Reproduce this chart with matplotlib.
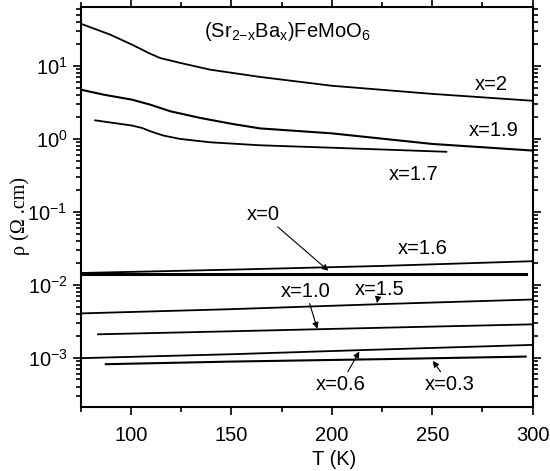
import matplotlib
matplotlib.use("Agg")
import matplotlib.pyplot as plt
from matplotlib import font_manager
from matplotlib.ticker import MultipleLocator, LogLocator, LogFormatterMathtext

# prefer a narrow sans face, fall back to the regular one at a smaller size
names = {f.name for f in font_manager.fontManager.ttflist}
if 'Liberation Sans Narrow' in names:
    sans = 'Liberation Sans Narrow'
    fs = 16.5
else:
    sans = 'Liberation Sans'
    fs = 14.5

plt.rcParams['font.family'] = [sans, 'DejaVu Sans']
plt.rcParams['mathtext.fontset'] = 'custom'
plt.rcParams['mathtext.rm'] = sans
plt.rcParams['mathtext.it'] = sans
plt.rcParams['mathtext.bf'] = sans + ':bold'

# resistivity vs temperature, one curve per Ba content
T_x2 = [75, 89.7, 100.5, 105.5, 108.8, 114.6, 124.5, 139.5, 164.3, 200, 250, 300]
rho_x2 = [37.6, 26.6, 19.4, 16.6, 14.9, 12.7, 10.9, 8.8, 7.0, 5.3, 4.1, 3.3]

T_x19 = [75, 86.4, 100.5, 109.6, 119.6, 134.5, 151, 164.3, 200, 250, 300]
rho_x19 = [4.69, 4.0, 3.42, 2.92, 2.37, 1.92, 1.58, 1.38, 1.18, 0.845, 0.686]

T_x17 = [82.2, 91.3, 100.5, 105.5, 110.4, 116.2, 124.5, 139.5, 164.3, 200, 257]
rho_x17 = [1.78, 1.64, 1.51, 1.40, 1.24, 1.10, 0.99, 0.89, 0.81, 0.75, 0.66]

T_x16 = [75, 150, 225, 300]
rho_x16 = [0.0144, 0.0160, 0.0180, 0.0209]

T_x0 = [75, 150, 225, 296.5]
rho_x0 = [0.0141, 0.0141, 0.0141, 0.0141]

T_x15 = [76, 150, 225, 300]
rho_x15 = [0.00403, 0.00460, 0.00540, 0.00624]

T_x10 = [83.6, 150, 225, 300]
rho_x10 = [0.00208, 0.00229, 0.00256, 0.00285]

T_x06 = [75, 150, 225, 300]
rho_x06 = [0.00098, 0.00111, 0.00129, 0.00149]

T_x03 = [87.5, 150, 225, 296.5]
rho_x03 = [0.00081, 0.00088, 0.00095, 0.00103]

fig = plt.figure(figsize=(5.5, 4.71), dpi=100)
ax = fig.add_axes([0.1467, 0.1359, 0.8218, 0.8486])

ax.plot(T_x2, rho_x2, 'k-', lw=1.3)
ax.plot(T_x19, rho_x19, 'k-', lw=1.5)
ax.plot(T_x17, rho_x17, 'k-', lw=1.3)
ax.plot(T_x16, rho_x16, 'k-', lw=1.3)
ax.plot(T_x0, rho_x0, 'k-', lw=2.2)
ax.plot(T_x15, rho_x15, 'k-', lw=1.3)
ax.plot(T_x10, rho_x10, 'k-', lw=1.3)
ax.plot(T_x06, rho_x06, 'k-', lw=1.3)
ax.plot(T_x03, rho_x03, 'k-', lw=1.5)

ax.set_yscale('log')
ax.set_xlim(75, 300)
ax.set_ylim(2.1e-4, 63)

ax.xaxis.set_major_locator(MultipleLocator(50))
ax.xaxis.set_minor_locator(MultipleLocator(25))
ax.yaxis.set_major_locator(LogLocator(base=10))
ax.yaxis.set_minor_locator(LogLocator(base=10, subs=range(2, 10)))
ax.yaxis.set_major_formatter(LogFormatterMathtext())
ax.tick_params(which='both', direction='out', top=True, right=True, width=1.2, labelsize=fs)
ax.tick_params(which='major', length=6)
ax.tick_params(axis='x', which='major', pad=8)
ax.tick_params(which='minor', length=3.5)
for s in ax.spines.values():
    s.set_linewidth(1.5)

ax.set_xlabel('T (K)', fontsize=fs)
ax.xaxis.set_label_coords(0.56, -0.1325)
ax.xaxis.label.set_va('center')
ax.set_ylabel('ρ (Ω .cm)', fontsize=14.5, family='Liberation Serif')
ax.yaxis.set_label_coords(-0.135, 0.4775)
ax.yaxis.label.set_va('center')

ax.text(177.6, 10**1.47, r'(Sr$_{2\mathrm{-}x}$Ba$_x$)FeMoO$_6$', fontsize=fs,
        ha='center', va='center')

ax.text(279.5, 5.6, 'x=2', fontsize=fs, ha='center', va='center')
ax.text(280.8, 1.29, 'x=1.9', fontsize=fs, ha='center', va='center')
ax.text(240.8, 0.32, 'x=1.7', fontsize=fs, ha='center', va='center')
ax.text(245.5, 0.031, 'x=1.6', fontsize=fs, ha='center', va='center')

arrow = dict(arrowstyle='-|>', color='k', lw=0.8, mutation_scale=9, shrinkA=0, shrinkB=0)
ax.annotate('x=0', xy=(198.3, 0.0155), xytext=(166, 0.091), fontsize=fs,
            ha='center', va='center', arrowprops=arrow)
ax.annotate('x=1.5', xy=(222.5, 0.0056), xytext=(223.7, 0.00855), fontsize=fs,
            ha='center', va='center', arrowprops=arrow)
ax.annotate('x=1.0', xy=(192.8, 0.00248), xytext=(187.1, 0.0081), fontsize=fs,
            ha='center', va='center', arrowprops=arrow)
ax.annotate('x=0.6', xy=(213.7, 0.00121), xytext=(204.5, 4.33e-4), fontsize=fs,
            ha='center', va='center', arrowprops=arrow)
ax.annotate('x=0.3', xy=(250.3, 0.0009), xytext=(258.5, 4.33e-4), fontsize=fs,
            ha='center', va='center', arrowprops=arrow)

fig.savefig('out.png', dpi=100)
